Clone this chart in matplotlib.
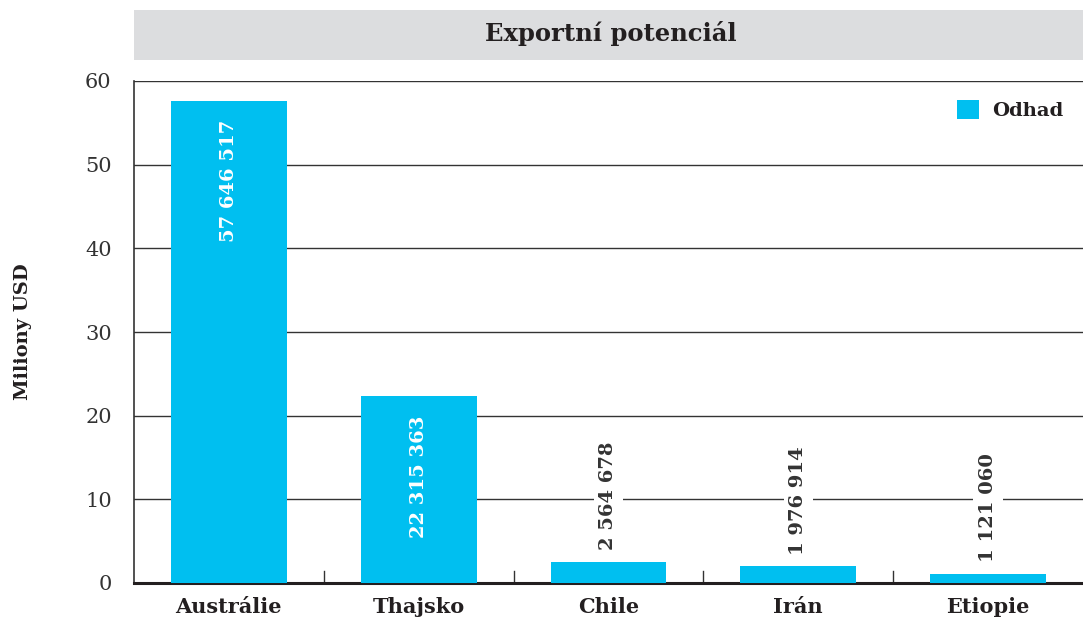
import matplotlib
matplotlib.use("Agg")
import matplotlib.pyplot as plt
from matplotlib.patches import Rectangle

plt.rcParams['font.family'] = ['DejaVu Serif']

zeme = ["Austrálie", "Thajsko", "Chile", "Irán", "Etiopie"]
hodnoty = [57646517, 22315363, 2564678, 1976914, 1121060]
yticks = [0, 10, 20, 30, 40, 50, 60]

modra = '#00BFF0'
text_c = '#231f20'

fig = plt.figure(figsize=(10.83, 6.25), dpi=100)
ax = fig.add_axes([0.1237, 0.0672, 0.8763, 0.8032])

x = list(range(len(zeme)))
mil = [v / 1e6 for v in hodnoty]
ax.bar(x, mil, width=0.61, color=modra, label="Odhad", zorder=3)

ax.set_xlim(-0.5, len(zeme) - 0.5)
ax.set_ylim(0, 60)
ax.set_yticks(yticks)
ax.yaxis.grid(True, color='#333333', linewidth=1.0, zorder=1)
ax.set_axisbelow(True)
ax.tick_params(axis='y', length=0, pad=16, labelsize=15, labelcolor='#333333')
ax.set_xticks(x)
ax.set_xticklabels(zeme, fontsize=15, fontweight='bold', color=text_c)
ax.tick_params(axis='x', length=0, pad=10)
# separator ticks between categories
for i in range(len(zeme) - 1):
    ax.plot([i + 0.5, i + 0.5], [0, 1.45], color='#333333', lw=1.0, zorder=2)

for s in ['top', 'right']:
    ax.spines[s].set_visible(False)
ax.spines['left'].set_color('#333333')
ax.spines['left'].set_linewidth(1.2)
ax.spines['bottom'].set_color(text_c)
ax.spines['bottom'].set_linewidth(2.2)

ax.set_ylabel("Miliony USD", fontsize=14, fontweight='bold', color=text_c, labelpad=38)

for xi, v, m in zip(x, hodnoty, mil):
    txt = f"{v:,}".replace(",", " ")
    if m > 10:
        ax.text(xi, m - 2.3, txt, rotation=90, ha='center', va='top',
                color='white', fontsize=14, fontweight='bold', zorder=4)
    else:
        ax.text(xi, m + 1.4, txt, rotation=90, ha='center', va='bottom',
                color='#333333', fontsize=14, fontweight='bold', zorder=4,
                bbox=dict(facecolor='white', edgecolor='none', pad=4))

leg = ax.legend(loc='upper right', frameon=False,
                handlelength=1.1, handleheight=1.1, handletextpad=0.7,
                borderaxespad=0.6, prop={'weight': 'bold', 'size': 14})
for t in leg.get_texts():
    t.set_color(text_c)

# title box
fig.patches.append(Rectangle((0.1237, 0.904), 0.8763, 0.080, transform=fig.transFigure,
                             facecolor='#dcdddf', edgecolor='none'))
fig.text(0.5644, 0.946, "Exportní potenciál", ha='center', va='center',
         fontsize=17.5, fontweight='bold', color=text_c)

fig.savefig("out.png", dpi=100)
